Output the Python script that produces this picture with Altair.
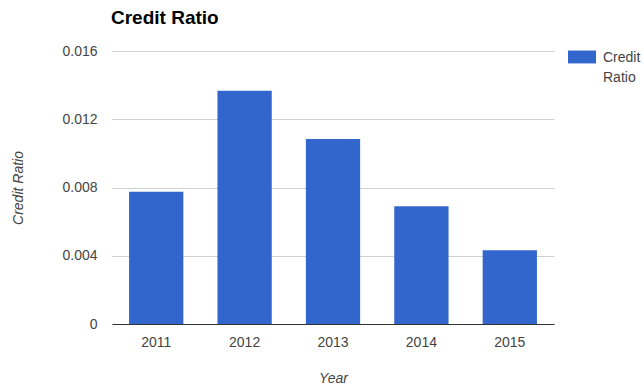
import altair as alt
import pandas as pd

years = ["2011", "2012", "2013", "2014", "2015"]
ratios = [0.00775, 0.01367, 0.01084, 0.0069, 0.00432]
series = ["Credit Ratio"] * len(years)
y_ticks = [0, 0.004, 0.008, 0.012, 0.016]

df = pd.DataFrame({"Year": years, "Credit Ratio": ratios, "Series": series})

FONT = "Liberation Sans"

bars = alt.Chart(df).mark_bar().encode(
    x=alt.X(
        "Year:N",
        scale=alt.Scale(paddingInner=0.386, paddingOuter=0.193),
        axis=alt.Axis(
            title="Year", labelAngle=0, ticks=False, labelPadding=11,
            labelFontSize=14, labelColor="#444444", labelFont=FONT,
            titleFont=FONT, titleFontSize=14, titleFontStyle="italic",
            titleFontWeight="normal", titleColor="#444444", titlePadding=22,
            domainColor="#333333", domainWidth=1, grid=False,
        ),
    ),
    y=alt.Y(
        "Credit Ratio:Q",
        scale=alt.Scale(domain=[0, 0.016], nice=False),
        axis=alt.Axis(
            title="Credit Ratio", values=y_ticks, format="~g", ticks=False,
            domain=False, labelPadding=15, labelFontSize=14,
            labelColor="#444444", labelFont=FONT, titleFont=FONT,
            titleFontSize=14, titleFontStyle="italic", titleFontWeight="normal",
            titleColor="#444444", titlePadding=36, gridColor="#d0d0d0",
            gridWidth=1,
        ),
    ),
    color=alt.Color(
        "Series:N",
        scale=alt.Scale(range=["#3366CC"]),
        legend=alt.Legend(
            title=None, orient="none", legendX=456, legendY=-8,
            symbolType="M-1,-0.46L1,-0.46L1,0.46L-1,0.46Z", symbolSize=784,
            symbolStrokeWidth=0, labelExpr="''", labelFontSize=1,
        ),
    ),
)

legend_text = alt.Chart(df.head(1)).mark_text(
    align="left", baseline="alphabetic", lineBreak=" ", lineHeight=20,
    font=FONT, fontSize=14, color="#444444",
).encode(
    x=alt.value(491),
    y=alt.value(11),
    text="Series:N",
)

chart = alt.layer(bars, legend_text).properties(
    width=442,
    height=273,
    title=alt.TitleParams(
        "Credit Ratio", anchor="start", font=FONT, fontSize=19,
        fontWeight="bold", color="#000000", offset=0, baseline="alphabetic",
        frame="group", dx=-1,
    ),
    autosize=alt.AutoSizeParams(type="none"),
    padding={"left": 112, "top": 51, "right": 90, "bottom": 64},
).configure(background="white").configure_view(stroke="transparent", strokeWidth=0)

chart.save("out.html", embed_options={"renderer": "svg", "actions": False})
